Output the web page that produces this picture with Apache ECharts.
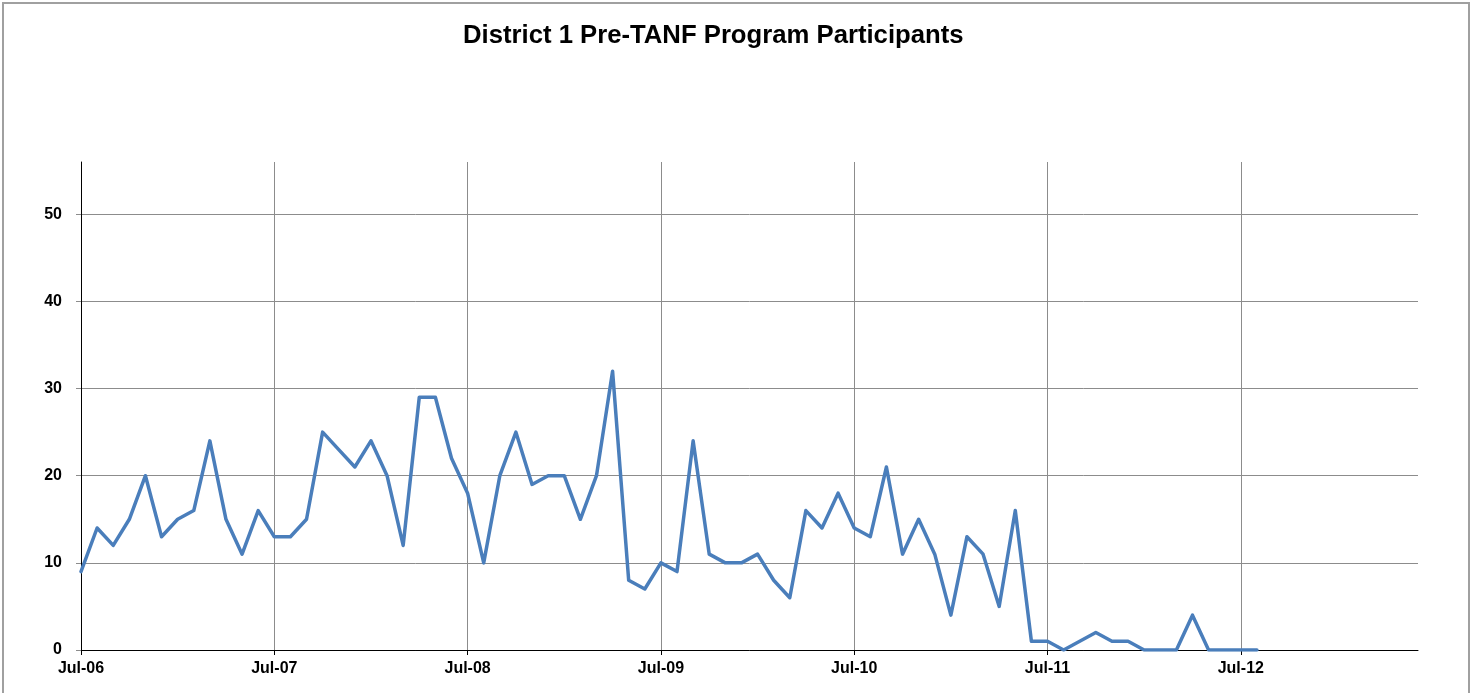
<!DOCTYPE html>
<html>
<head>
<meta charset="utf-8">
<script src="https://cdn.jsdelivr.net/npm/echarts@6/dist/echarts.min.js"></script>
<style>
html,body{margin:0;padding:0;background:#fff;}
#chart{width:1475px;height:693px;}
</style>
</head>
<body>
<div id="chart"></div>
<script>
const months = [
 'Jul-06','Aug-06','Sep-06','Oct-06','Nov-06','Dec-06','Jan-07','Feb-07','Mar-07','Apr-07','May-07','Jun-07',
 'Jul-07','Aug-07','Sep-07','Oct-07','Nov-07','Dec-07','Jan-08','Feb-08','Mar-08','Apr-08','May-08','Jun-08',
 'Jul-08','Aug-08','Sep-08','Oct-08','Nov-08','Dec-08','Jan-09','Feb-09','Mar-09','Apr-09','May-09','Jun-09',
 'Jul-09','Aug-09','Sep-09','Oct-09','Nov-09','Dec-09','Jan-10','Feb-10','Mar-10','Apr-10','May-10','Jun-10',
 'Jul-10','Aug-10','Sep-10','Oct-10','Nov-10','Dec-10','Jan-11','Feb-11','Mar-11','Apr-11','May-11','Jun-11',
 'Jul-11','Aug-11','Sep-11','Oct-11','Nov-11','Dec-11','Jan-12','Feb-12','Mar-12','Apr-12','May-12','Jun-12',
 'Jul-12','Aug-12','Sep-12','Oct-12','Nov-12','Dec-12','Jan-13','Feb-13','Mar-13','Apr-13','May-13','Jun-13'
];
const participants = [
 9,14,12,15,20,13,15,16,24,15,11,16,
 13,13,15,25,23,21,24,20,12,29,29,22,
 18,10,20,25,19,20,20,15,20,32,8,7,
 10,9,24,11,10,10,11,8,6,16,14,18,
 14,13,21,11,15,11,4,13,11,5,16,1,
 1,0,1,2,1,1,0,0,0,4,0,0,
 0,0
];
const yTicks = [0,10,20,30,40,50];
const yMax = 56;

const chart = echarts.init(document.getElementById('chart'));
const font = 'Liberation Sans, Arial, sans-serif';
chart.setOption({
  animation: false,
  backgroundColor: '#ffffff',
  title: {
    text: 'District 1 Pre-TANF Program Participants',
    left: 458, top: 18,
    textStyle: {fontFamily: font, fontSize: 25.7, fontWeight: 'bold', color: '#000'}
  },
  graphic: [{
    type: 'rect', silent: true,
    shape: {x: 3, y: 3, width: 1466, height: 720},
    style: {fill: 'none', stroke: '#a0a0a0', lineWidth: 2}
  }],
  grid: {left: 81, right: 57, top: 162, bottom: 43, containLabel: false},
  xAxis: {
    type: 'category',
    boundaryGap: false,
    data: months,
    axisLine: {lineStyle: {color: '#000', width: 1}},
    axisTick: {show: true, interval: 11, length: 5, lineStyle: {color: '#000'}},
    axisLabel: {interval: 11, margin: 11, color: '#000', fontFamily: font, fontSize: 16, fontWeight: 'bold'},
    splitLine: {show: true, interval: 11, lineStyle: {color: '#8c8c8c', width: 1}}
  },
  yAxis: {
    type: 'value',
    min: 0, max: yMax, interval: 10,
    axisLine: {show: true, lineStyle: {color: '#000', width: 1}},
    axisTick: {show: true, length: 5, customValues: yTicks, lineStyle: {color: '#8c8c8c'}},
    axisLabel: {customValues: yTicks, margin: 19, color: '#000', fontFamily: font, fontSize: 16, fontWeight: 'bold'},
    splitLine: {show: true, lineStyle: {color: '#8c8c8c', width: 1}}
  },
  series: [{
    type: 'line',
    data: participants,
    showSymbol: false,
    symbol: 'none',
    lineStyle: {color: '#4a7ebb', width: 3.5, join: 'round', cap: 'round'},
    z: 3
  }]
});
</script>
</body>
</html>
